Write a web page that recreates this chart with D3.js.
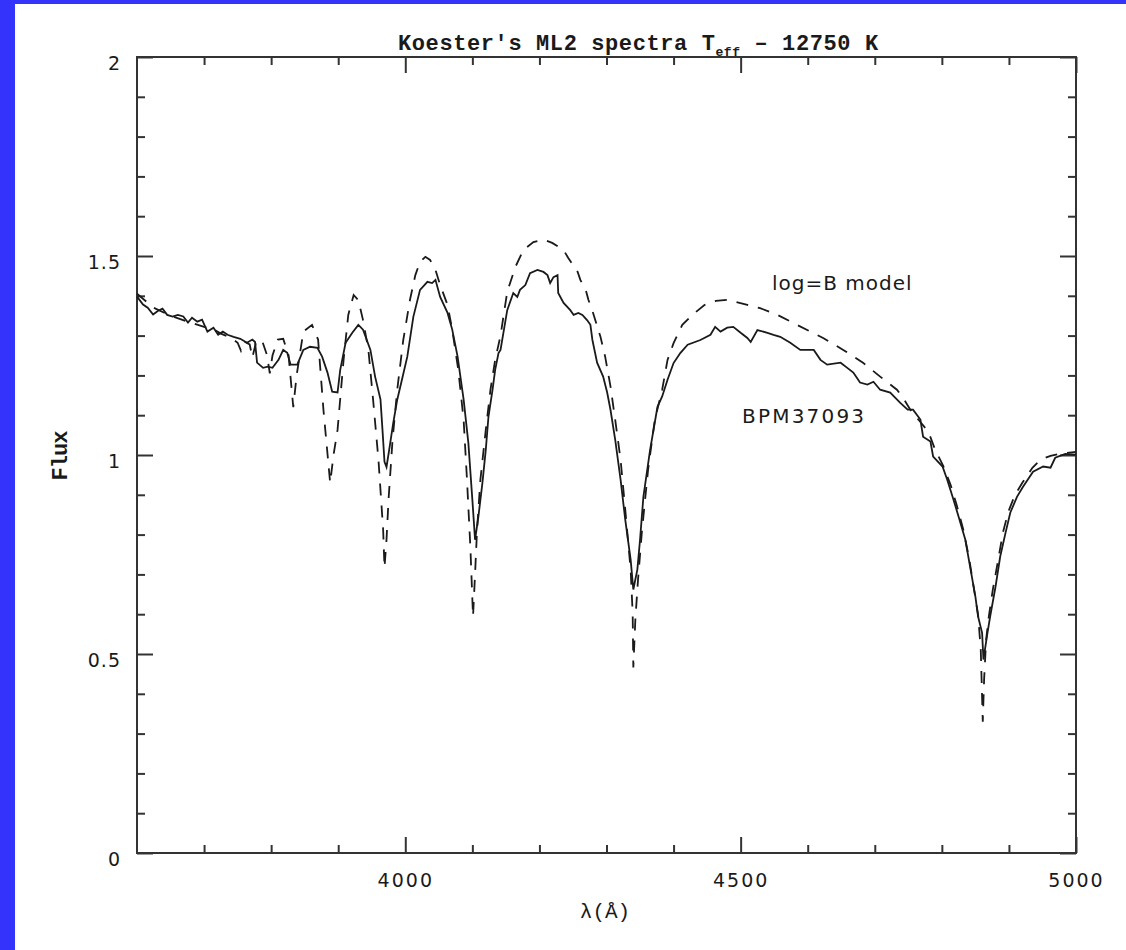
<!DOCTYPE html>
<html>
<head>
<meta charset="utf-8">
<script src="https://cdn.jsdelivr.net/npm/d3@7"></script>
<style>
  html, body { margin: 0; padding: 0; background: #3333fc; }
  svg { display: block; }
</style>
</head>
<body>
<script>
// ---------- data ----------
const obsWave = [3600,3609,3616,3624,3631,3638,3645,3653,3661,3669,3676,3682,3690,3697,3705,3714,3721,3728,3735,3744,3754,3764,3772,3776,3779,3788,3795,3802,3811,3818,3824,3829,3839,3848,3858,3869,3876,3884,3891,3899,3903,3911,3921,3930,3937,3948,3955,3963,3966,3969,3972,3976,3982,3988,3995,4003,4012,4022,4033,4040,4045,4052,4063,4070,4078,4087,4094,4100,4104,4109,4115,4120,4124,4130,4134,4139,4142,4152,4161,4167,4171,4179,4186,4197,4206,4212,4216,4221,4227,4228,4236,4246,4251,4258,4264,4271,4276,4279,4286,4295,4301,4306,4313,4321,4328,4336,4340,4346,4350,4355,4365,4376,4383,4391,4400,4410,4421,4440,4455,4462,4470,4480,4489,4500,4510,4515,4525,4540,4549,4559,4574,4589,4609,4619,4629,4649,4659,4668,4678,4689,4698,4708,4723,4738,4749,4757,4768,4772,4783,4787,4801,4808,4816,4825,4835,4842,4850,4854,4860,4862,4868,4872,4880,4887,4895,4902,4912,4921,4936,4951,4962,4969,4984,5000];
const obsFlux = [1.398,1.378,1.370,1.353,1.362,1.368,1.352,1.348,1.352,1.348,1.333,1.345,1.335,1.340,1.310,1.320,1.302,1.310,1.302,1.297,1.292,1.282,1.290,1.284,1.232,1.219,1.222,1.219,1.239,1.264,1.257,1.227,1.227,1.264,1.272,1.269,1.247,1.207,1.159,1.157,1.214,1.282,1.307,1.327,1.315,1.264,1.197,1.140,1.063,0.983,0.970,1.013,1.080,1.139,1.189,1.247,1.347,1.415,1.435,1.432,1.440,1.397,1.357,1.315,1.247,1.139,1.031,0.888,0.787,0.845,0.930,1.013,1.096,1.163,1.214,1.256,1.264,1.364,1.407,1.397,1.415,1.427,1.457,1.465,1.460,1.452,1.432,1.447,1.452,1.407,1.382,1.364,1.352,1.357,1.352,1.339,1.327,1.289,1.232,1.197,1.157,1.113,1.038,0.938,0.837,0.737,0.662,0.712,0.787,0.895,1.013,1.121,1.147,1.189,1.231,1.256,1.277,1.289,1.302,1.322,1.310,1.320,1.322,1.307,1.294,1.284,1.314,1.307,1.302,1.297,1.282,1.264,1.264,1.239,1.227,1.232,1.219,1.207,1.182,1.177,1.184,1.164,1.157,1.131,1.114,1.114,1.089,1.046,1.034,0.996,0.971,0.938,0.895,0.845,0.787,0.720,0.644,0.594,0.553,0.486,0.553,0.594,0.669,0.745,0.805,0.855,0.895,0.920,0.958,0.971,0.968,0.993,1.003,1.001];

const modelWave = [3600,3625,3650,3675,3700,3712,3725,3740,3750,3755,3760,3768,3772,3777,3786,3794,3798,3802,3810,3818,3826,3833,3838,3848,3861,3870,3878,3888,3893,3899,3908,3915,3923,3930,3937,3945,3952,3960,3967,3969,3972,3975,3981,3988,3997,4007,4015,4022,4030,4037,4045,4052,4063,4070,4079,4087,4092,4097,4101,4104,4107,4112,4120,4127,4134,4142,4152,4164,4176,4191,4206,4219,4236,4243,4257,4261,4269,4273,4280,4291,4298,4306,4313,4321,4328,4336,4339,4340,4343,4347,4353,4362,4372,4383,4391,4400,4413,4428,4446,4463,4480,4510,4529,4555,4584,4623,4653,4683,4708,4733,4742,4753,4768,4780,4790,4802,4813,4822,4832,4841,4848,4854,4858,4861,4863,4866,4870,4876,4884,4891,4899,4909,4920,4935,4947,4962,4976,5000];
const modelFlux = [1.405,1.370,1.350,1.335,1.322,1.318,1.305,1.295,1.282,1.262,1.285,1.278,1.245,1.280,1.290,1.250,1.205,1.250,1.290,1.292,1.250,1.120,1.200,1.310,1.327,1.290,1.113,0.930,1.000,1.063,1.239,1.352,1.402,1.389,1.339,1.264,1.139,0.988,0.812,0.717,0.787,0.887,1.038,1.164,1.289,1.390,1.452,1.485,1.498,1.490,1.465,1.427,1.377,1.315,1.214,1.088,0.938,0.770,0.594,0.700,0.812,0.938,1.063,1.164,1.239,1.300,1.410,1.472,1.515,1.535,1.541,1.533,1.515,1.495,1.460,1.440,1.415,1.390,1.357,1.297,1.247,1.172,1.088,0.988,0.862,0.712,0.603,0.466,0.586,0.687,0.812,0.963,1.088,1.164,1.239,1.281,1.327,1.352,1.377,1.387,1.390,1.377,1.369,1.352,1.327,1.294,1.264,1.231,1.197,1.164,1.144,1.114,1.083,1.058,1.013,0.973,0.925,0.875,0.812,0.737,0.662,0.599,0.511,0.330,0.436,0.536,0.594,0.662,0.737,0.805,0.857,0.900,0.930,0.968,0.988,0.998,1.003,1.008];

const xMajorTicks = [4000, 4500, 5000];
const xMinorTicks = [3700,3800,3900,4100,4200,4300,4400,4600,4700,4800,4900];
const yMajorTicks = [0, 0.5, 1, 1.5, 2];
const yMinorTicks = [0.1,0.2,0.3,0.4,0.6,0.7,0.8,0.9,1.1,1.2,1.3,1.4,1.6,1.7,1.8,1.9];
const yTickLabels = ["0", "0.5", "1", "1.5", "2"];

const titleMain = "Koester's ML2 spectra T";
const titleSub = "eff";
const titleRest = " \u2013 12750 K";
const xLabel = "\u03bb(\u00c5)";
const yLabel = "Flux";
const modelLabel = "log=B model";
const starLabel = "BPM37093";

// ---------- layout ----------
const W = 1126, H = 950;
const L = 137, R = 1076, T = 57, B = 853;

const svg = d3.select("body").append("svg").attr("width", W).attr("height", H);
svg.append("rect").attr("width", W).attr("height", H).attr("fill", "#3333fc");
svg.append("rect").attr("x", 15).attr("y", 4).attr("width", W - 15).attr("height", H - 4).attr("fill", "#ffffff");

const x = d3.scaleLinear().domain([3600, 5000]).range([L, R]);
const y = d3.scaleLinear().domain([0, 2]).range([B, T]);

const ink = "#1a1a1a";
const frameInk = "#333";

function styleAxis(g) {
  g.select(".domain").remove();
  g.selectAll(".tick line").attr("stroke", frameInk).attr("stroke-width", 2);
}

// major ticks with labels
const gB = svg.append("g").attr("transform", `translate(0,${B})`)
  .call(d3.axisBottom(x).tickValues(xMajorTicks).tickSizeInner(-16).tickSizeOuter(0).tickFormat(d3.format("d")));
styleAxis(gB);
gB.selectAll(".tick text").attr("y", 34).attr("dy", null)
  .attr("font-family", "DejaVu Sans").attr("font-size", 19).attr("letter-spacing", 2).attr("fill", ink);

const gT = svg.append("g").attr("transform", `translate(0,${T})`)
  .call(d3.axisTop(x).tickValues(xMajorTicks).tickSizeInner(-16).tickSizeOuter(0).tickFormat(""));
styleAxis(gT);

const gL = svg.append("g").attr("transform", `translate(${L},0)`)
  .call(d3.axisLeft(y).tickValues(yMajorTicks).tickSizeInner(-16).tickSizeOuter(0).tickPadding(16)
    .tickFormat((d, i) => yTickLabels[i]));
styleAxis(gL);
gL.selectAll(".tick text").attr("y", 12).attr("dy", null)
  .attr("font-family", "DejaVu Sans").attr("font-size", 19).attr("letter-spacing", 1).attr("fill", ink);

const gR = svg.append("g").attr("transform", `translate(${R},0)`)
  .call(d3.axisRight(y).tickValues(yMajorTicks).tickSizeInner(-16).tickSizeOuter(0).tickFormat(""));
styleAxis(gR);

// minor ticks
[[d3.axisBottom(x).tickValues(xMinorTicks), `translate(0,${B})`],
 [d3.axisTop(x).tickValues(xMinorTicks), `translate(0,${T})`],
 [d3.axisLeft(y).tickValues(yMinorTicks), `translate(${L},0)`],
 [d3.axisRight(y).tickValues(yMinorTicks), `translate(${R},0)`]].forEach(([ax, tr]) => {
  const g = svg.append("g").attr("transform", tr)
    .call(ax.tickSizeInner(-8).tickSizeOuter(0).tickFormat(""));
  styleAxis(g);
});

// frame
svg.append("rect").attr("x", L).attr("y", T).attr("width", R - L).attr("height", B - T)
  .attr("fill", "none").attr("stroke", frameInk).attr("stroke-width", 2);

// curves
const line = d3.line().x(d => x(d[0])).y(d => y(d[1]));
const obs = obsWave.map((w, i) => [w, obsFlux[i]]);
const mod = modelWave.map((w, i) => [w, modelFlux[i]]);

svg.append("path").datum(mod).attr("d", line).attr("fill", "none")
  .attr("stroke", ink).attr("stroke-width", 1.8).attr("stroke-dasharray", "12,10");
svg.append("path").datum(obs).attr("d", line).attr("fill", "none")
  .attr("stroke", ink).attr("stroke-width", 1.8).attr("stroke-linejoin", "miter");

// title
const title = svg.append("text").attr("x", 398).attr("y", 50)
  .attr("font-family", "Liberation Mono").attr("font-weight", "bold").attr("font-size", 22).attr("letter-spacing", 0.6).attr("fill", ink);
title.append("tspan").text(titleMain);
title.append("tspan").attr("dy", 6).attr("font-size", 13).text(titleSub);
title.append("tspan").attr("dy", -6).text(titleRest);

// axis labels
svg.append("text").attr("x", 605).attr("y", 918).attr("text-anchor", "middle")
  .attr("font-family", "Liberation Mono").attr("font-size", 21).attr("fill", ink).text(xLabel);
svg.append("text").attr("transform", "translate(67,456) rotate(-90)").attr("text-anchor", "middle")
  .attr("font-family", "Liberation Mono").attr("font-weight", "bold").attr("font-size", 22).attr("letter-spacing", -1).attr("fill", ink).text(yLabel);

// annotations
svg.append("text").attr("x", 772).attr("y", 290)
  .attr("font-family", "DejaVu Sans").attr("font-size", 20).attr("letter-spacing", 1).attr("fill", ink).text(modelLabel);
svg.append("text").attr("x", 742).attr("y", 423)
  .attr("font-family", "DejaVu Sans").attr("font-size", 20).attr("letter-spacing", 2.2).attr("fill", ink).text(starLabel);
</script>
</body>
</html>
